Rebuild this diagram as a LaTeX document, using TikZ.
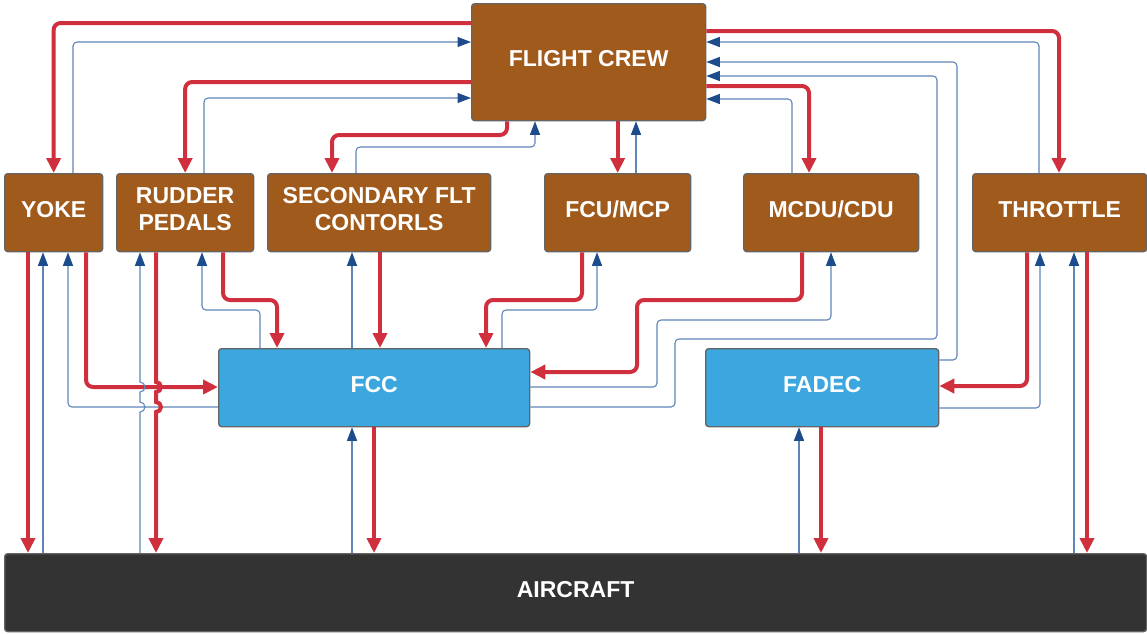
\documentclass[tikz,border=0pt]{standalone}
\usepackage{fontspec}
\setmainfont{Liberation Sans}
\usetikzlibrary{arrows.meta}
\definecolor{boxbrown}{HTML}{A05A1B}
\definecolor{boxblue}{HTML}{3CA6DE}
\definecolor{boxdark}{HTML}{333333}
\definecolor{boxedge}{HTML}{646464}
\definecolor{linered}{HTML}{D0303E}
\definecolor{lineblue}{HTML}{5F86BA}
\definecolor{tipblue}{HTML}{1C4C8C}
\begin{document}
\begin{tikzpicture}[x=1pt,y=-1pt,
  unit/.style={draw=boxedge, line width=1.3pt, rounded corners=3pt, anchor=north west,
    inner sep=0pt, text=white, font=\bfseries\fontsize{23}{27}\selectfont, align=center,
    text depth=6.5pt},
  crew/.style={unit, fill=boxbrown},
  ctrl/.style={unit, fill=boxblue},
  plane/.style={unit, fill=boxdark},
  redarrow/.style={draw=linered, line width=4pt, rounded corners=7pt,
    -{Triangle[length=15pt,width=14pt]}},
  bluearrow/.style={draw=lineblue, line width=1.1pt, rounded corners=4pt,
    -{Triangle[length=13.5pt,width=10pt,color=tipblue]}}
]
\useasboundingbox (0,0) rectangle (1147,633);

% nodes
\node[crew, minimum width=234pt, minimum height=117pt] (fc) at (471,3) {FLIGHT CREW};
\node[crew, minimum width=98pt, minimum height=78pt] (yoke) at (4,173) {YOKE};
\node[crew, minimum width=137pt, minimum height=78pt] (rudder) at (116,173) {RUDDER\\PEDALS};
\node[crew, minimum width=223pt, minimum height=78pt] (sec) at (267,173) {SECONDARY FLT\\CONTORLS};
\node[crew, minimum width=146pt, minimum height=78pt] (fcu) at (544,173) {FCU/MCP};
\node[crew, minimum width=175pt, minimum height=78pt] (mcdu) at (743,173) {MCDU/CDU};
\node[crew, minimum width=174pt, minimum height=78pt] (thr) at (972,173) {THROTTLE};
\node[ctrl, minimum width=311pt, minimum height=78pt] (fcc) at (218,348) {FCC};
\node[ctrl, minimum width=233pt, minimum height=78pt] (fadec) at (705,348) {FADEC};
\node[plane, minimum width=1142pt, minimum height=78pt] (ac) at (4,553) {AIRCRAFT};

% flight crew <-> yoke, rudder
\draw[redarrow] (fc.west |- 0,23) -| (yoke.north);
\draw[bluearrow] (yoke.north -| 73,0) |- (fc.west |- 0,42);
\draw[redarrow] (fc.west |- 0,82) -| (rudder.north);
\draw[bluearrow] (rudder.north -| 204,0) |- (fc.west |- 0,98);

% flight crew <-> secondary, fcu
\draw[redarrow] (fc.south -| 507,0) |- (332,135) -- (sec.north -| 332,0);
\draw[bluearrow] (sec.north -| 356,0) |- (535,147) -- (fc.south -| 535,0);
\draw[redarrow] (fc.south -| fcu.north) -- (fcu.north);
\draw[bluearrow] (fcu.north -| 636,0) -- (fc.south -| 636,0);

% flight crew <-> mcdu, throttle, fadec, fcc
\draw[redarrow] (fc.east |- 0,86) -| (mcdu.north -| 809,0);
\draw[bluearrow] (mcdu.north -| 792,0) |- (fc.east |- 0,99);
\draw[redarrow] (fc.east |- 0,31) -| (thr.north -| 1059,0);
\draw[bluearrow] (thr.north -| 1039,0) |- (fc.east |- 0,42);
\draw[bluearrow] (fadec.east |- 0,360) -- (957,360) |- (fc.east |- 0,62);
\draw[bluearrow] (fcc.east |- 0,407) -- (675,407) -- (675,339) -- (937,339) -- (937,76) -- (fc.east |- 0,76);

% fcc <-> controls
\draw[bluearrow] (fcc.east |- 0,387) -- (657,387) |- (831,320) -- (mcdu.south -| 831,0);
\draw[redarrow] (mcdu.south -| 802,0) |- (637,300) |- (fcc.east |- 0,372);
\draw[redarrow] (fcu.south -| 582,0) |- (486,300) -- (fcc.north -| 486,0);
\draw[bluearrow] (fcc.north -| 502,0) |- (597,310) -- (fcu.south -| 597,0);
\draw[redarrow] (sec.south -| 380,0) -- (fcc.north -| 380,0);
\draw[bluearrow] (fcc.north -| 352,0) -- (sec.south -| 352,0);
\draw[redarrow] (rudder.south -| 223,0) |- (277,300) -- (fcc.north -| 277,0);
\draw[bluearrow] (fcc.north -| 260,0) |- (202,310) -- (rudder.south -| 202,0);
\draw[redarrow] (yoke.south -| 86,0) |- (fcc.west |- 0,387);
\draw[bluearrow] (fcc.west |- 0,407) -| (yoke.south -| 68,0);

% aircraft links
\draw[redarrow] (yoke.south -| 28,0) -- (ac.north -| 28,0);
\draw[bluearrow] (ac.north -| 43,0) -- (yoke.south -| 43,0);
\draw[redarrow, sharp corners] (rudder.south -| 156,0) -- (156,382) arc (-90:90:5) -- (156,402) arc (-90:90:5) -- (ac.north -| 156,0);
\draw[bluearrow, sharp corners] (ac.north -| 140,0) -- (140,412) arc (90:-90:5) -- (140,392) arc (90:-90:5) -- (rudder.south -| 140,0);
\draw[redarrow] (fcc.south -| 374,0) -- (ac.north -| 374,0);
\draw[bluearrow] (ac.north -| 352,0) -- (fcc.south -| 352,0);
\draw[redarrow] (fadec.south -| 821,0) -- (ac.north -| 821,0);
\draw[bluearrow] (ac.north -| 799,0) -- (fadec.south -| 799,0);

% throttle links
\draw[redarrow] (thr.south -| 1027,0) |- (fadec.east |- 0,386);
\draw[bluearrow] (fadec.east |- 0,408) -| (thr.south -| 1040,0);
\draw[redarrow] (thr.south -| 1087,0) -- (ac.north -| 1087,0);
\draw[bluearrow] (ac.north -| 1074,0) -- (thr.south -| 1074,0);
\end{tikzpicture}
\end{document}
